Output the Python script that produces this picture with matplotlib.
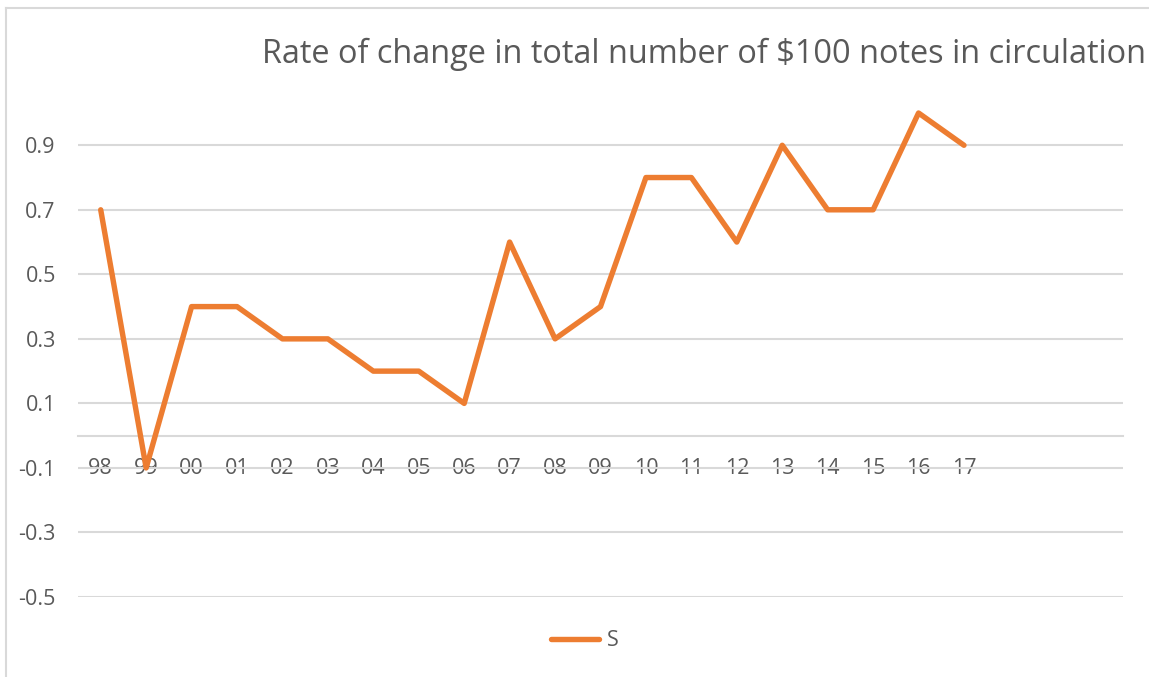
import numpy as np
import matplotlib.pyplot as plt
from matplotlib.lines import Line2D

plt.rcParams['font.family'] = ['Open Sans', 'DejaVu Sans']

years = ['98', '99', '00', '01', '02', '03', '04', '05', '06', '07',
         '08', '09', '10', '11', '12', '13', '14', '15', '16', '17']
rate = [0.7, -0.1, 0.4, 0.4, 0.3, 0.3, 0.2, 0.2, 0.1, 0.6,
        0.3, 0.4, 0.8, 0.8, 0.6, 0.9, 0.7, 0.7, 1.0, 0.9]
# empty category slots the chart keeps on the right
n_slots = 23
y_ticks = [-0.5, -0.3, -0.1, 0.1, 0.3, 0.5, 0.7, 0.9]

orange = '#ED7D31'
grid = '#D9D9D9'
txt = '#595959'

fig = plt.figure(figsize=(11.49, 6.77), dpi=100)
ax = fig.add_axes([78 / 1149, 1 - 597 / 677, (1123 - 78) / 1149, (597 - 113) / 677])

x = np.arange(len(years))
ax.plot(x, rate, color=orange, lw=3.9, solid_joinstyle='round',
        solid_capstyle='round', label='S', clip_on=False, zorder=3)

ax.set_xlim(-0.5, n_slots - 0.5)
ax.set_ylim(-0.5, 1.0)
ax.set_yticks(y_ticks)
ax.set_yticklabels([f'{v:.1f}' for v in y_ticks])
ax.yaxis.grid(True, color=grid, lw=1.5)
ax.set_axisbelow(True)

for s in ['top', 'right', 'left']:
    ax.spines[s].set_visible(False)
ax.spines['bottom'].set_position(('data', 0))
ax.spines['bottom'].set_color(grid)
ax.spines['bottom'].set_linewidth(1.5)

ax.set_xticks(x)
ax.set_xticklabels(years)
ax.tick_params(axis='x', length=0, pad=16, labelsize=15.5, labelcolor=txt)
ax.tick_params(axis='y', length=0, pad=16, labelsize=15.5, labelcolor=txt)

fig.text(262 / 1149, 1 - 54 / 677, 'Rate of change in total number of $100 notes in circulation',
         ha='left', va='center', fontsize=23.4, color=txt)

leg = fig.legend(loc='center', bbox_to_anchor=(585 / 1149, 1 - 641 / 677),
                 frameon=False, fontsize=15.5, handlelength=2.2, handletextpad=0.4)
for t in leg.get_texts():
    t.set_color(txt)

# chart frame (left and top edges visible)
fig.add_artist(Line2D([6 / 1149, 6 / 1149], [0, 1 - 8 / 677], color=grid, lw=1.5,
                      transform=fig.transFigure))
fig.add_artist(Line2D([6 / 1149, 1], [1 - 8 / 677, 1 - 8 / 677], color=grid, lw=1.5,
                      transform=fig.transFigure))

fig.savefig('out.png', dpi=100)
